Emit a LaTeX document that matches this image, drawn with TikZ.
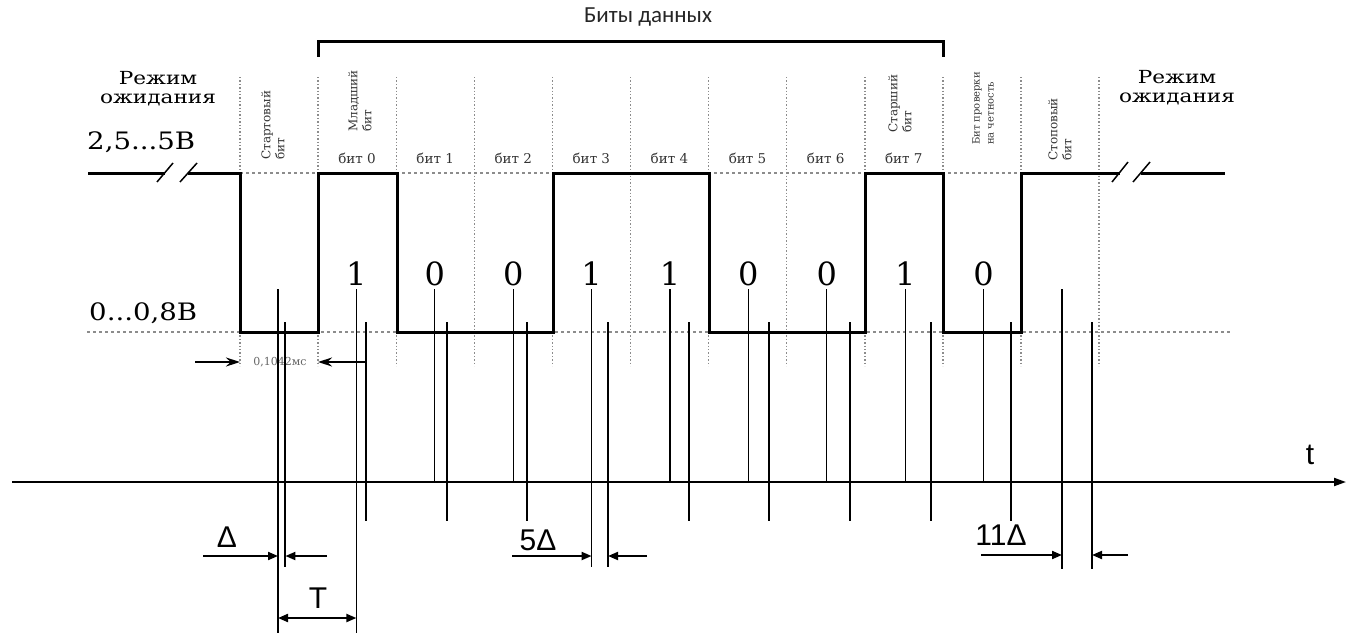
\documentclass[tikz,border=0pt]{standalone}
\usepackage{fontspec}
\setmainfont{DejaVu Serif}
\newfontfamily\axisfont{Liberation Sans}
\newfontfamily\headfont{Carlito}
\usetikzlibrary{arrows.meta,calc}
\definecolor{gridgray}{HTML}{8C8C8C}

\begin{document}
\begin{tikzpicture}[x=1pt,y=-1pt,every node/.style={inner sep=0pt},
  sig/.style={line width=3pt,line join=miter},
  gridline/.style={gridgray,dotted,line width=1.4pt},
  lvl/.style={gridgray,dash pattern=on 3pt off 3pt,line width=1.2pt},
  samp/.style={line width=1.3pt},
  sampb/.style={line width=2pt},
  dim/.style={line width=2pt,-{Triangle[length=10pt,width=8pt]}},
  big/.style={font=\fontsize{18}{19}\selectfont,xscale=1.2,align=center},
  vlab/.style={rotate=90,anchor=west,align=left,font=\fontsize{12}{14}\selectfont,text=black!80},
  blab/.style={font=\fontsize{13.5}{14}\selectfont,text=black!80},
  sans/.style={font=\axisfont\fontsize{30}{30}\selectfont}]
  \useasboundingbox (0,0) rectangle (1346,634);
  % data bits bracket
  \node[font=\headfont\fontsize{23}{26}\selectfont,text=black!85] (data) at (648,17) {Биты данных};
  \draw[line width=3pt] (318,57) -- (318,42) -- (943,42) -- (943,57);
  % grid
  \foreach \k in {0,...,11}
    \draw[gridline] ({240+78.1*\k},77) -- ({240+78.1*\k},366);
  \draw[lvl] (240,173) -- (1021,173);
  \draw[lvl] (87,332) -- (1230,332);
  % levels and idle
  \node[big] (idleL) at (158,89) {Режим\\ожидания};
  \node[big] (idleR) at (1177,88) {Режим\\ожидания};
  \node[font=\fontsize{24}{24}\selectfont,xscale=1.15,anchor=west] (hi) at (87,142) {2,5...5В};
  \node[font=\fontsize{24}{24}\selectfont,xscale=1.15,anchor=west] (lo) at (89,313) {0...0,8В};
  % signal
  \draw[sig] (88,173) -- (165,173);
  \draw[sig] (188,173) -- (240,173) -- (240,332) -- (318,332) -- (318,173) -- (397,173)
    -- (397,332) -- (553,332) -- (553,173) -- (709,173) -- (709,332) -- (865,332)
    -- (865,173) -- (943,173) -- (943,332) -- (1021,332) -- (1021,173) -- (1120,173);
  \draw[sig] (1141,173) -- (1225,173);
  \draw[line width=1.5pt] (157,182) -- (173,163) (180,182) -- (197,163);
  \draw[line width=1.5pt] (1112,182) -- (1128,162) (1133,182) -- (1150,162);
  % bit labels
  \node[vlab] (startb) at (273,160) {Стартовый\\бит};
  \node[vlab] (lsb) at (360,132) {Младший\\бит};
  \node[vlab] (msb) at (900,133) {Старший\\бит};
  \node[vlab,font=\fontsize{10}{14}\selectfont] (parb) at (983,145) {Бит проверки\\на четность};
  \node[vlab] (stopb) at (1060,161) {Стоповый\\бит};
  \foreach \k in {0,...,7}
    \node[blab] (b\k) at ({318+78.1*(\k+0.5)},158) {бит \k};
  \foreach \i/\v in {1/1,2/0,3/0,4/1,5/1,6/0,7/0,8/1,9/0}
    \node[font=\fontsize{32}{32}\selectfont] (d\i) at ({278+78.4*\i},274) {\v};
  % bit time
  \node[font=\fontsize{11}{11}\selectfont,text=black!60] (per) at (280,362) {0,1042мс};
  \draw[line width=1.5pt,-{Stealth[length=14pt,width=9pt]}] (195,362) -- (240,362);
  \draw[line width=1.5pt,-{Stealth[length=14pt,width=9pt]}] (365,362) -- (318,362);
  % time axis
  \draw[line width=2pt,-{Triangle[length=12pt,width=8pt]}] (12,482) -- (1346,482);
  \node[sans] (t) at (1310,455) {t};
  % sampling points
  \foreach \i/\sb/\rb in {0/633/567,1/633/521,2/482/521,3/482/521,4/567/567,
      5/482/521,6/482/521,7/482/521,8/482/521,9/482/521,10/569/569}{
    \coordinate (s\i) at ({278+78.4*\i},289);
    \coordinate (r\i) at ({285.4+80.66*\i},322);
    \draw[samp] (s\i) -- (s\i |- 0,\sb);
    \draw[sampb] (r\i) -- (r\i |- 0,\rb);
  }
  % drift
  \node[sans] (dl1) at (227,537) {Δ};
  \draw[dim] (203,556) -- (s0 |- 0,556);
  \draw[dim] (327,556) -- (r0 |- 0,556);
  \node[sans] (tl) at (318,598) {T};
  \draw[line width=2pt,{Triangle[length=10pt,width=8pt]}-{Triangle[length=10pt,width=8pt]}]
    (s0 |- 0,618) -- (s1 |- 0,618);
  \node[sans] (dl5) at (538,540) {5Δ};
  \draw[dim] (512,556) -- (s4 |- 0,556);
  \draw[dim] (647,556) -- (r4 |- 0,556);
  \node[sans] (dl11) at (1001,535) {11Δ};
  \draw[dim] (981,555) -- (s10 |- 0,555);
  \draw[dim] (1128,555) -- (r10 |- 0,555);
\end{tikzpicture}
\end{document}
